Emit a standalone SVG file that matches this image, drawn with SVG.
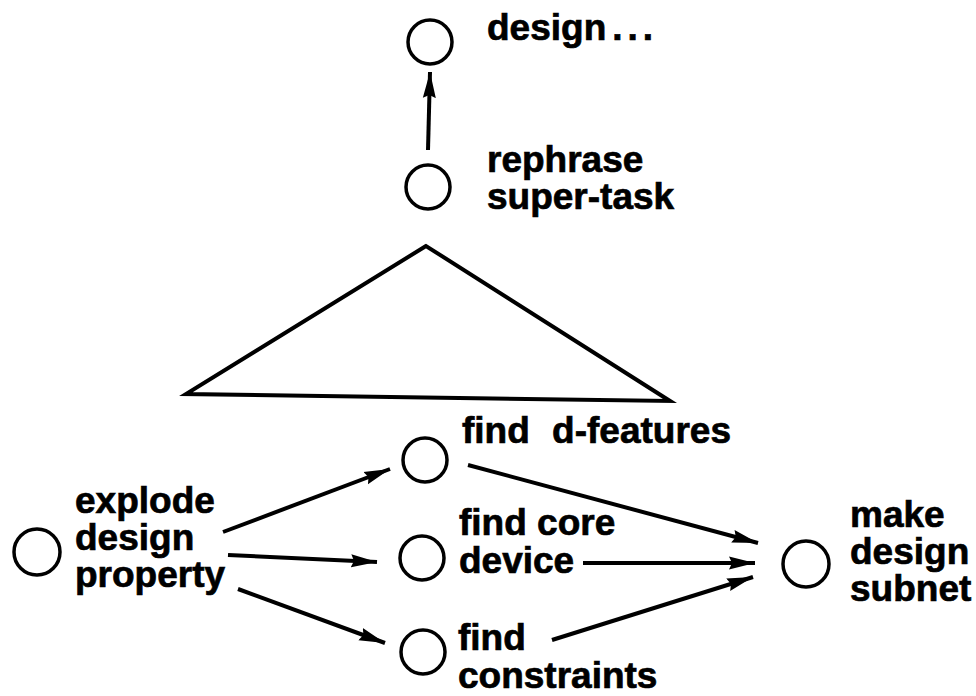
<svg xmlns="http://www.w3.org/2000/svg" width="976" height="696" viewBox="0 0 976 696">
<defs>
<style>
.n{fill:none;stroke:#000;stroke-width:3.5}
.t{font-family:"Liberation Sans",Arial,sans-serif;font-weight:bold;font-size:37px;fill:#000;stroke:#000;stroke-width:0.7}
.c{fill:none;stroke:#000;stroke-width:4}
</style>
<marker id="ah" markerUnits="userSpaceOnUse" markerWidth="28" markerHeight="16" viewBox="0 0 28 16" refX="26" refY="8" orient="auto">
<path d="M0,1.5 L26,8 L0,14.5 L3,8 Z" fill="#000"/>
</marker>
</defs>
<rect width="976" height="696" fill="#fff"/>
<g id="design">
<circle class="n" cx="430" cy="42" r="22"/>
<text class="t" x="487" y="40" font-size="36">design<tspan letter-spacing="5" dx="6">...</tspan></text>
</g>
<g id="rephrase">
<circle class="n" cx="428" cy="187" r="22"/>
<text class="t" x="487" y="172">rephrase</text>
<text class="t" x="487" y="209">super-task</text>
</g>
<g id="triangle">
<polygon class="c" points="426,246 186,394 670,401" stroke-linejoin="miter"/>
</g>
<g id="explode">
<circle class="n" cx="37" cy="552" r="23"/>
<text class="t" x="75" y="513">explode</text>
<text class="t" x="75" y="550">design</text>
<text class="t" x="75" y="587">property</text>
</g>
<g id="dfeatures">
<circle class="n" cx="425" cy="460" r="22"/>
<text class="t" x="462" y="443" word-spacing="12">find d-features</text>
</g>
<g id="coredevice">
<circle class="n" cx="422" cy="558" r="22"/>
<text class="t" x="459" y="535">find core</text>
<text class="t" x="459" y="573">device</text>
</g>
<g id="constraints">
<circle class="n" cx="423" cy="652" r="22"/>
<text class="t" x="458" y="650">find</text>
<text class="t" x="458" y="688">constraints</text>
</g>
<g id="subnet">
<circle class="n" cx="806" cy="564" r="23"/>
<text class="t" x="850" y="527">make</text>
<text class="t" x="850" y="564">design</text>
<text class="t" x="850" y="601">subnet</text>
</g>
<g id="connectors" class="c">
<line x1="428" y1="150" x2="430" y2="72" marker-end="url(#ah)"/>
<line x1="223" y1="532" x2="390" y2="469" marker-end="url(#ah)"/>
<line x1="228" y1="555" x2="377" y2="562" marker-end="url(#ah)"/>
<line x1="238" y1="589" x2="385" y2="643" marker-end="url(#ah)"/>
<line x1="468" y1="465" x2="758" y2="543" marker-end="url(#ah)"/>
<line x1="583" y1="563" x2="755" y2="563" marker-end="url(#ah)"/>
<line x1="552" y1="640" x2="753" y2="577" marker-end="url(#ah)"/>
</g>
</svg>
